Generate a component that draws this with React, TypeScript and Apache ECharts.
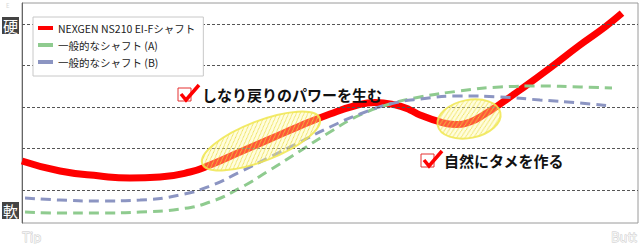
import React, { useEffect, useRef } from "react";
import * as echarts from "echarts";

const seriesNames = ["NEXGEN NS210 EI-Fシャフト", "一般的なシャフト (A)", "一般的なシャフト (B)"];
const stiffLabels = ["硬", "軟"];
const endLabels = ["Tip", "Butt"];
const notes = ["しなり戻りのパワーを生む", "自然にタメを作る"];
const gridLevels = [1, 2, 3, 4, 5];

const redX = [0, 6.17, 12.66, 17.53, 22.4, 27.27, 30.52, 35.39, 40.26, 45.13, 50.0, 54.06, 57.31, 60.55, 62.99, 64.61, 67.86, 70.29, 72.73, 75.16, 77.6, 80.84, 85.71, 90.58, 94.64, 97.4];
const redY = [1.7, 1.458, 1.337, 1.289, 1.313, 1.434, 1.602, 1.916, 2.229, 2.542, 2.831, 3.03, 3.11, 3.05, 2.93, 2.81, 2.64, 2.58, 2.64, 2.83, 3.072, 3.41, 3.94, 4.494, 4.928, 5.26];
const abX = [0.49, 6.17, 12.66, 19.16, 25.65, 30.52, 35.39, 40.26, 45.13, 50.0, 54.87, 59.74, 64.61, 71.1, 77.6, 84.09, 90.58, 95.78];
const greenY = [0.47, 0.446, 0.446, 0.47, 0.542, 0.711, 1.048, 1.482, 1.94, 2.398, 2.807, 3.072, 3.241, 3.386, 3.482, 3.506, 3.482, 3.458];
const blueY = [0.807, 0.759, 0.735, 0.759, 0.88, 1.096, 1.434, 1.795, 2.157, 2.518, 2.831, 3.072, 3.193, 3.265, 3.241, 3.169, 3.096, 3.024];

const zip = (xs: number[], ys: number[]) => xs.map((x, i) => [x, ys[i]]);

const FONT = "'Noto Sans CJK JP', 'Noto Sans', sans-serif";

function makeHatch() {
  const c = document.createElement("canvas");
  c.width = 5;
  c.height = 5;
  const ctx = c.getContext("2d");
  if (ctx) {
    ctx.fillStyle = "rgba(255,250,160,0.35)";
    ctx.fillRect(0, 0, 5, 5);
    ctx.strokeStyle = "rgba(235,220,60,0.8)";
    ctx.lineWidth = 1;
    ctx.beginPath();
    ctx.moveTo(0, 5);
    ctx.lineTo(5, 0);
    ctx.stroke();
  }
  return c;
}

export default function App() {
  const ref = useRef<HTMLDivElement>(null);
  useEffect(() => {
    if (!ref.current) return;
    const chart = echarts.init(ref.current, undefined, { renderer: "svg" });
    const hatch = makeHatch();
    const ellipseStyle = {
      fill: { image: hatch, repeat: "repeat" } as any,
      stroke: "rgba(240,230,80,0.85)",
      lineWidth: 2,
    };
    const checkbox = (x: number, y: number) => [
      { type: "rect", shape: { x, y, width: 13, height: 13 }, style: { fill: "#fff", stroke: "#e53030", lineWidth: 1 }, z: 110 },
      { type: "polyline", shape: { points: [[x + 3, y + 6], [x + 8, y + 12], [x + 21, y - 3]] }, style: { stroke: "#ff0000", lineWidth: 3.5, fill: "none" }, z: 111 },
    ];
    const stiffBox = (y: number, t: string) => ({
      type: "group",
      children: [
        { type: "rect", shape: { x: 2, y, width: 17, height: 17 }, style: { fill: "#444" } },
        { type: "text", x: 10.5, y: y + 8.5, style: { text: t, fill: "#fff", font: `15px ${FONT}`, align: "center", verticalAlign: "middle" } },
      ],
    });
    chart.setOption({
      animation: false,
      grid: { left: 22, right: 2, top: 3, bottom: 21, show: true, borderColor: "#9a9a9a", borderWidth: 1 },
      xAxis: { type: "value", min: 0, max: 100, axisLine: { show: false }, axisTick: { show: false }, axisLabel: { show: false }, splitLine: { show: false } },
      yAxis: { type: "value", min: 0.205, max: 5.506, axisLine: { show: true, lineStyle: { color: "#666" } }, axisTick: { show: false }, axisLabel: { show: false }, splitLine: { show: false } },
      legend: {
        orient: "vertical",
        left: 33,
        top: 17,
        data: seriesNames,
        icon: "rect",
        itemWidth: 15,
        itemHeight: 4,
        itemGap: 5,
        padding: [5, 8, 8, 5],
        backgroundColor: "#fff",
        borderColor: "#c8c8c8",
        borderWidth: 1,
        textStyle: { fontFamily: FONT, fontSize: 10.5, color: "#222", lineHeight: 12 },
        z: 20,
      },
      series: [
        {
          name: "grid",
          type: "line",
          data: [],
          silent: true,
          markLine: {
            silent: true,
            symbol: ["none", "none"],
            label: { show: false },
            lineStyle: { color: "#555", type: [3, 2], width: 1 },
            data: gridLevels.map((v) => ({ yAxis: v })),
          },
        },
        {
          name: seriesNames[0],
          type: "line",
          data: zip(redX, redY),
          smooth: true,
          symbol: "none",
          color: "#ff0000",
          lineStyle: { color: "#ff0000", width: 7 },
        },
        {
          name: seriesNames[1],
          type: "line",
          data: zip(abX, greenY),
          smooth: true,
          symbol: "none",
          color: "#8fcb8f",
          lineStyle: { color: "#8fcb8f", width: 3, type: [10, 6] },
        },
        {
          name: seriesNames[2],
          type: "line",
          data: zip(abX, blueY),
          smooth: true,
          symbol: "none",
          color: "#8c95c2",
          lineStyle: { color: "#8c95c2", width: 3, type: [10, 6] },
        },
      ],
      graphic: [
        { type: "ellipse", x: 261, y: 141, rotation: 0.37, shape: { cx: 0, cy: 0, rx: 63, ry: 20 }, style: ellipseStyle, z: 100 },
        { type: "ellipse", x: 469, y: 119, rotation: 0.2, shape: { cx: 0, cy: 0, rx: 32, ry: 19 }, style: ellipseStyle, z: 100 },
        ...checkbox(178, 88),
        { type: "text", x: 202, y: 94.5, style: { text: notes[0], fill: "#111", font: `bold 15px ${FONT}`, verticalAlign: "middle" }, z: 110 },
        ...checkbox(421, 154),
        { type: "text", x: 444, y: 160.5, style: { text: notes[1], fill: "#111", font: `bold 15px ${FONT}`, verticalAlign: "middle" }, z: 110 },
        stiffBox(17, stiffLabels[0]),
        stiffBox(202, stiffLabels[1]),
        { type: "text", x: 22, y: 236, style: { text: endLabels[0], fill: "#f4f4f4", stroke: "#c8c8c8", lineWidth: 0.8, font: `13px ${FONT}`, verticalAlign: "middle" } },
        { type: "text", x: 637, y: 236, style: { text: endLabels[1], fill: "#f4f4f4", stroke: "#c8c8c8", lineWidth: 0.8, font: `13px ${FONT}`, align: "right", verticalAlign: "middle" } },
        { type: "text", x: 6, y: 2, style: { text: "E", fill: "#d8d8d8", font: `6px ${FONT}`, verticalAlign: "top" } },
      ],
    });
    return () => chart.dispose();
  }, []);
  return <div ref={ref} style={{ position: "fixed", left: 0, top: 0, width: 640, height: 244, background: "#fff" }} />;
}
